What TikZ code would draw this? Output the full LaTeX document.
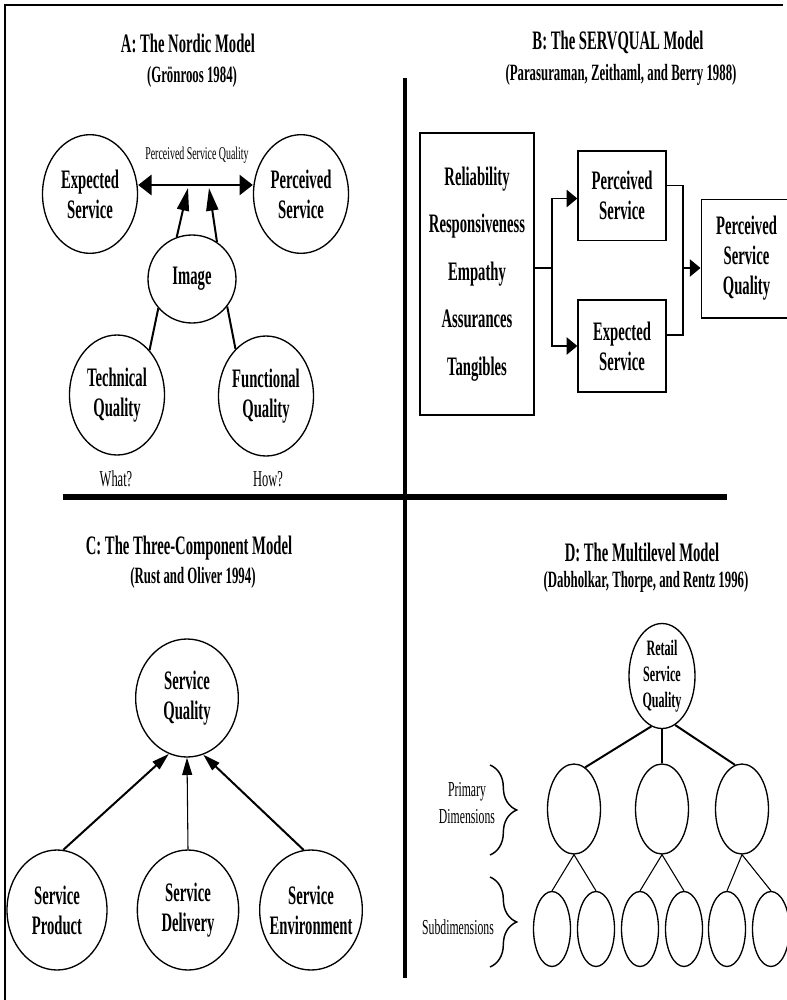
\documentclass[tikz,border=0pt]{standalone}
\usepackage{fontspec}
\setmainfont{Liberation Serif}[FakeStretch=0.55]
\usetikzlibrary{shapes.geometric,arrows.meta,decorations.pathreplacing,calc}

\tikzset{
  ttl/.style={font=\bfseries\fontsize{20}{22}\selectfont},
  sub/.style={font=\bfseries\fontsize{17.5}{20}\selectfont},
  lbl/.style={font=\bfseries\fontsize{20}{22.5}\selectfont, align=center},
  smalllbl/.style={font=\bfseries\fontsize{16.5}{19.5}\selectfont, align=center},
  plain/.style={font=\fontsize{16}{20}\selectfont, align=center},
  qlbl/.style={font=\fontsize{17}{20}\selectfont},
  tiny/.style={font=\fontsize{13.5}{15}\selectfont},
  oval/.style={ellipse, draw, line width=1pt, inner sep=0pt},
  bigoval/.style={oval, minimum width=71.25pt, minimum height=89pt},
  boxnode/.style={rectangle, draw, line width=1pt, inner sep=0pt, align=center},
  primoval/.style={oval, minimum width=39.75pt, minimum height=67.5pt},
  suboval/.style={oval, minimum width=27.75pt, minimum height=56.25pt},
  bhead/.style={-{Triangle[length=8pt,width=13pt]}},
  vhead/.style={-{Triangle[length=17pt,width=9pt]}},
  chead/.style={-{Triangle[length=13pt,width=7.5pt]}},
  divider/.style={line width=#1},
}

\begin{document}
\begin{tikzpicture}[x=0.75pt, y=-0.75pt]
\useasboundingbox (0,0) rectangle (787,1000);

% frame and quadrant dividers
\draw[divider=2.2pt] (5,1000) -- (5,5) -- (783,5);
\draw[divider=3pt] (405,78) -- (405,978);
\draw[divider=4.5pt] (63,497) -- (727,497);

% ---------- A: Nordic model ----------
\node[ttl] (titleA) at (188,43) {A: The Nordic Model};
\node[sub] (subA) at (192,77) {(Grönroos 1984)};

\node[bigoval, label={[lbl]center:Expected\\Service}] (exp) at (90,194) {};
\node[bigoval, label={[lbl]center:Perceived\\Service}] (per) at (301,194) {};
\node[oval, minimum width=66pt, minimum height=66pt, label={[lbl]center:Image}] (img) at (192,279) {};
\node[bigoval, minimum height=90pt, label={[lbl]center:Technical\\Quality}] (tech) at (117,395) {};
\node[bigoval, minimum height=90pt, label={[lbl]center:Functional\\Quality}] (func) at (266,396) {};

\node[tiny] (psqA) at (197,155) {Perceived Service Quality};
\node[qlbl] (what) at (116,479) {What?};
\node[qlbl] (how) at (268,479) {How?};

\coordinate (barL) at (188,188);
\coordinate (barR) at (209,188);

\draw[line width=2.2pt, {Triangle[length=10pt,width=15pt]}-{Triangle[length=10pt,width=15pt]}]
  ($(exp.east)+(0,-9)$) -- ($(per.west)+(0,-9)$);
\draw[line width=1.5pt, vhead] (img.110) -- (barL);
\draw[line width=1.5pt, vhead] (img.56) -- (barR);
\draw[line width=1.5pt] (img.221) -- (tech.54);
\draw[line width=1.5pt] (img.322) -- (func.123);

% ---------- B: SERVQUAL model ----------
\node[ttl] (titleB) at (618,42) {B: The SERVQUAL Model};
\node[sub] (subB) at (621,75) {(Parasuraman, Zeithaml, and Berry 1988)};

\node[boxnode, minimum width=85.5pt, minimum height=211.5pt,
      font=\bfseries\fontsize{20}{35.6}\selectfont] (dims) at (477,274)
  {Reliability\\Responsiveness\\Empathy\\Assurances\\Tangibles};
\node[boxnode, lbl, minimum width=66pt, minimum height=67pt] (perB) at (622,195.5) {Perceived\\Service};
\node[boxnode, lbl, minimum width=66pt, minimum height=69pt] (expB) at (622,346) {Expected\\Service};
\node[boxnode, lbl, minimum width=68pt, minimum height=89pt] (psqB) at (746.5,258.5) {Perceived\\Service\\Quality};

\coordinate (jL) at (552,268);
\coordinate (jR) at (683,268);

\draw[line width=0.9pt] (dims.east |- jL) -- (jL);
\draw[line width=0.9pt, bhead] (jL) |- ($(perB.west)+(0,3)$);
\draw[line width=0.9pt, bhead] (jL) |- (expB.west);
\draw[line width=0.9pt] ($(perB.east)+(0,-10)$) -| (jR) |- ($(expB.east)+(0,-11)$);
\draw[line width=0.9pt, bhead] (jR) -- (psqB.west |- jR);

% ---------- C: Three-component model ----------
\node[ttl] (titleC) at (189,548) {C: The Three-Component Model};
\node[sub] (subC) at (193,578) {(Rust and Oliver 1994)};

\node[oval, minimum width=77pt, minimum height=88.5pt, label={[lbl]center:Service\\Quality}] (sq) at (187,698) {};
\node[oval, minimum width=75pt, minimum height=90pt, label={[lbl]center:Service\\Product}] (prod) at (57,910) {};
\node[oval, minimum width=76pt, minimum height=90pt, label={[lbl]center:Service\\Delivery}] (deliv) at (188,910) {};
\node[oval, minimum width=77pt, minimum height=90pt, label={[lbl]center:Service\\Environment}] (env) at (311,910) {};

\draw[line width=1.5pt, chead] (prod.84) -- (sq.252);
\draw[line width=0.8pt, chead] (deliv.north) -- (sq.south);
\draw[line width=1.5pt, chead] (env.97) -- (sq.286);

% ---------- D: Multilevel model ----------
\node[ttl] (titleD) at (642,552) {D: The Multilevel Model};
\node[sub] (subD) at (646,582) {(Dabholkar, Thorpe, and Rentz 1996)};

\node[oval, minimum width=49.5pt, minimum height=78.75pt, label={[smalllbl]center:Retail\\Service\\Quality}] (rsq) at (662,676) {};

\node[primoval] (p1) at (574,809) {};
\node[primoval] (p2) at (662,809) {};
\node[primoval] (p3) at (742,809) {};

\node[suboval] (s1) at (552,929) {};
\node[suboval] (s2) at (596,929) {};
\node[suboval] (s3) at (640,929) {};
\node[suboval] (s4) at (684,929) {};
\node[suboval] (s5) at (727,929) {};
\node[suboval] (s6) at (771,929) {};

\draw[line width=1.5pt] (rsq.258) -- (p1.75);
\draw[line width=0.8pt] (rsq.south) -- (p2.north);
\draw[line width=1.5pt] (rsq.285) -- (p3.99);

\foreach \p/\a/\b in {p1/s1/s2, p2/s3/s4, p3/s5/s6}{
  \draw[line width=0.8pt] (\a.north) -- (\p.south) -- (\b.north);
}

\coordinate (bA1) at (490,765);
\coordinate (bA2) at (490,855);
\coordinate (bB1) at (490,877);
\coordinate (bB2) at (490,967);
\draw[line width=1.1pt, decorate, decoration={brace, amplitude=20pt}] (bA1) -- (bA2);
\draw[line width=1.1pt, decorate, decoration={brace, amplitude=20pt}] (bB1) -- (bB2);

\node[plain] (primlbl) at (467,803) {Primary\\Dimensions};
\node[plain] (sublbl) at (458,927) {Subdimensions};

\end{tikzpicture}
\end{document}
